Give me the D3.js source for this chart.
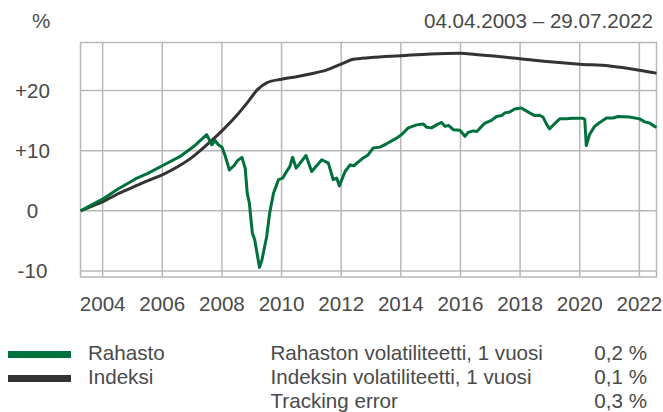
<!DOCTYPE html>
<html>
<head>
<meta charset="utf-8">
<script src="https://cdn.jsdelivr.net/npm/d3@7"></script>
<style>
  html, body { margin: 0; padding: 0; background: #fff; }
  svg { display: block; }
  text { font-family: "Liberation Sans", Arial, Helvetica, sans-serif; fill: #4a4a4a; }
</style>
</head>
<body>
<svg id="chart" width="663" height="412"></svg>
<script>
// ---- data (decimal years, % change) ----
const fundYears = [2003.26, 2003.6, 2004.0, 2004.5, 2005.0, 2005.15, 2005.5, 2006.0, 2006.6, 2007.05, 2007.49,
  2007.66, 2007.77, 2007.88, 2008.0, 2008.1, 2008.25, 2008.4, 2008.53, 2008.67, 2008.78, 2008.85, 2008.92,
  2009.02, 2009.1, 2009.26, 2009.34, 2009.5, 2009.6, 2009.73, 2009.9, 2010.04, 2010.17, 2010.28, 2010.37,
  2010.49, 2010.82, 2011.01, 2011.35, 2011.57, 2011.73, 2011.85, 2011.94, 2012.13, 2012.3, 2012.42, 2012.74,
  2012.9, 2013.07, 2013.3, 2013.52, 2013.86, 2014.03, 2014.25, 2014.53, 2014.75, 2014.87, 2015.03, 2015.2,
  2015.37, 2015.48, 2015.6, 2015.76, 2015.98, 2016.15, 2016.26, 2016.43, 2016.55, 2016.71, 2016.82, 2017.04,
  2017.21, 2017.38, 2017.49, 2017.65, 2017.82, 2018.04, 2018.15, 2018.32, 2018.49, 2018.65, 2018.77, 2018.9,
  2018.99, 2019.16, 2019.33, 2019.55, 2019.77, 2020.11, 2020.17, 2020.22, 2020.33, 2020.5, 2020.67, 2020.9,
  2021.12, 2021.28, 2021.67, 2022.01, 2022.18, 2022.34, 2022.51, 2022.575];
const fundValues = [0, 0.9, 1.95, 3.6, 5.0, 5.45, 6.2, 7.5, 9.05, 10.7, 12.67,
  11.0, 11.7, 11.0, 10.6, 9.3, 6.8, 7.5, 8.4, 8.9, 7.1, 2.9, 1.3,
  -3.7, -4.8, -9.4, -8.2, -4.3, -0.4, 2.95, 5.2, 5.45, 6.55, 7.4, 8.9,
  7.1, 9.2, 6.55, 8.5, 7.95, 5.2, 5.45, 4.15, 6.55, 7.65, 7.5, 8.8,
  9.3, 10.45, 10.6, 11.15, 12.1, 12.7, 13.8, 14.3, 14.45, 13.9, 13.8, 14.3,
  14.7, 14.05, 14.2, 13.5, 13.4, 12.4, 13.05, 13.3, 13.2, 14.05, 14.6, 15.05,
  15.7, 15.85, 16.3, 16.45, 16.95, 17.1, 16.8, 16.3, 15.85, 15.9, 15.6, 14.3,
  13.65, 14.5, 15.3, 15.3, 15.4, 15.4, 15.2, 10.85, 12.7, 14.05, 14.7, 15.45,
  15.45, 15.7, 15.6, 15.3, 14.8, 14.6, 14.05, 13.9];

const indexYears = [2003.26, 2003.75, 2004.0, 2004.5, 2005.0, 2005.5, 2006.0, 2006.5, 2007.0, 2007.5,
  2008.0, 2008.5, 2008.9, 2009.2, 2009.5, 2010.0, 2010.5, 2011.0, 2011.5, 2012.0, 2012.4, 2013.0,
  2014.0, 2015.0, 2016.0, 2016.5, 2017.0, 2018.0, 2019.0, 2020.0, 2021.0, 2022.0, 2022.575];
const indexValues = [0, 1.0, 1.5, 2.8, 3.9, 5.0, 6.0, 7.3, 8.9, 11.0,
  13.3, 15.9, 18.3, 20.2, 21.3, 21.9, 22.3, 22.8, 23.4, 24.4, 25.2, 25.5,
  25.8, 26.1, 26.2, 26.0, 25.8, 25.3, 24.8, 24.4, 24.1, 23.4, 22.9];

const yTicks = [-10, 0, 10, 20];
const yTickLabels = ["-10", "0", "+10", "+20"];
const xTickYears = [2004, 2006, 2008, 2010, 2012, 2014, 2016, 2018, 2020, 2022];
const dateRangeLabel = "04.04.2003 \u2013 29.07.2022";
const unitLabel = "%";
const seriesNames = ["Rahasto", "Indeksi"];
const seriesColors = ["#00703c", "#333333"];
const statLabels = ["Rahaston volatiliteetti, 1 vuosi", "Indeksin volatiliteetti, 1 vuosi", "Tracking error"];
const statValues = ["0,2 %", "0,1 %", "0,3 %"];

// ---- layout ----
const svg = d3.select("#chart");
const pLeft = 80.5, pRight = 656.5, pTop = 42.5, pBottom = 277;
const fs = 20.6;

const x = d3.scaleLinear().domain([2003.257, 2022.575]).range([pLeft, pRight]);
const y = d3.scaleLinear().domain([-11, 28]).range([pBottom, pTop]);

const grid = svg.append("g").attr("stroke", "#b8b8b8").attr("stroke-width", 1.5).attr("fill", "none");
grid.append("rect").attr("x", pLeft).attr("y", pTop).attr("width", pRight - pLeft).attr("height", pBottom - pTop);
grid.selectAll("line.h").data(yTicks).enter().append("line")
  .attr("x1", pLeft).attr("x2", pRight).attr("y1", d => y(d)).attr("y2", d => y(d));
grid.selectAll("line.v").data(xTickYears).enter().append("line")
  .attr("x1", d => x(d)).attr("x2", d => x(d)).attr("y1", pTop).attr("y2", pBottom);

// y labels
svg.append("g").selectAll("text").data(yTicks).enter().append("text")
  .attr("x", 32.5).attr("y", d => y(d) + 7)
  .attr("text-anchor", "middle").attr("font-size", fs)
  .text((d, i) => yTickLabels[i]);

// x labels
svg.append("g").selectAll("text").data(xTickYears).enter().append("text")
  .attr("x", d => x(d)).attr("y", 310.5)
  .attr("text-anchor", "middle").attr("font-size", fs)
  .text(d => d);

// header
svg.append("text").attr("x", 32).attr("y", 28).attr("font-size", fs).text(unitLabel);
svg.append("text").attr("x", 653).attr("y", 28).attr("font-size", fs).attr("text-anchor", "end").text(dateRangeLabel);

// lines
const indexData = indexYears.map((t, i) => [t, indexValues[i]]);
const fundData = fundYears.map((t, i) => [t, fundValues[i]]);

svg.append("path").datum(indexData)
  .attr("fill", "none").attr("stroke", seriesColors[1]).attr("stroke-width", 3)
  .attr("stroke-linejoin", "round")
  .attr("d", d3.line().x(d => x(d[0])).y(d => y(d[1])).curve(d3.curveMonotoneX));
svg.append("path").datum(fundData)
  .attr("fill", "none").attr("stroke", seriesColors[0]).attr("stroke-width", 3)
  .attr("stroke-linejoin", "round")
  .attr("d", d3.line().x(d => x(d[0])).y(d => y(d[1])));

// legend
const leg = svg.append("g");
seriesNames.forEach((name, i) => {
  leg.append("rect").attr("x", 8).attr("y", 351 + i * 24).attr("width", 63).attr("height", 7)
    .attr("fill", seriesColors[i]);
  leg.append("text").attr("x", 88).attr("y", 359.5 + i * 24).attr("font-size", fs).text(name);
});
statLabels.forEach((s, i) => {
  leg.append("text").attr("x", 270.5).attr("y", 359.5 + i * 24).attr("font-size", fs).text(s);
  leg.append("text").attr("x", 647).attr("y", 359.5 + i * 24).attr("font-size", fs)
    .attr("text-anchor", "end").text(statValues[i]);
});
</script>
</body>
</html>
